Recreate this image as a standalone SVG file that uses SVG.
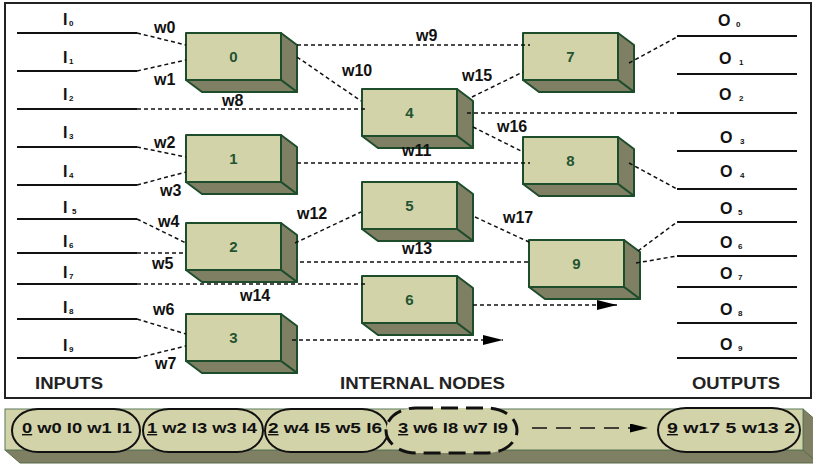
<svg xmlns="http://www.w3.org/2000/svg" xmlns:xlink="http://www.w3.org/1999/xlink" width="813" height="464" viewBox="0 0 813 464">
<style>
  .frame{fill:#fff;stroke:#222;stroke-width:2}
  .front{fill:#d3d3a9;stroke:#1e4d2c;stroke-width:2;stroke-linejoin:round}
  .side{fill:#7f7f63;stroke:#1e4d2c;stroke-width:2;stroke-linejoin:round}
  .num{font-family:"Liberation Sans",Arial,sans-serif;font-weight:bold;font-size:15px;fill:#235432;text-anchor:middle}
  .lbl{font-family:"Liberation Sans",Arial,sans-serif;font-weight:bold;font-size:16px;fill:#111}
  .io{font-family:"Liberation Sans",Arial,sans-serif;font-weight:bold;font-size:16px;fill:#111}
  .sub{font-size:8px}
  .big{font-family:"Liberation Sans",Arial,sans-serif;font-weight:bold;font-size:16px;fill:#222}
  .strip{font-family:"Liberation Sans",Arial,sans-serif;font-weight:bold;font-size:14px;fill:#111}
  .u{text-decoration:underline}
  .solid{stroke:#111;stroke-width:2;fill:none}
  .dash{stroke:#111;stroke-width:1.5;stroke-dasharray:4 3;fill:none}
  .pill{fill:#d3d3a9;stroke:#111;stroke-width:2}
  .pilld{fill:#d3d3a9;stroke:#111;stroke-width:3;stroke-dasharray:17 8}
</style>
<defs>
  <g id="box">
    <polygon class="side" points="95,0 111,12 111,59 95,47"/>
    <polygon class="side" points="0,47 95,47 111,59 16,59"/>
    <rect class="front" x="0" y="0" width="95" height="47"/>
  </g>
  <marker id="arr" markerUnits="userSpaceOnUse" markerWidth="20" markerHeight="10" refX="20" refY="5" orient="auto">
    <path d="M0,0 L20,5 L0,10 z" fill="#000"/>
  </marker>
  <marker id="arr2" markerUnits="userSpaceOnUse" markerWidth="18" markerHeight="9" refX="18" refY="4.5" orient="auto">
    <path d="M0,0 L18,4.5 L0,9 z" fill="#000"/>
  </marker>
</defs>

<rect class="frame" x="5" y="3" width="806" height="395"/>

<g id="inputs">
  <line class="solid" x1="17" y1="33" x2="137" y2="33"/>
  <line class="solid" x1="17" y1="71" x2="137" y2="71"/>
  <line class="solid" x1="17" y1="109" x2="137" y2="109"/>
  <line class="solid" x1="17" y1="147" x2="137" y2="147"/>
  <line class="solid" x1="17" y1="185" x2="137" y2="185"/>
  <line class="solid" x1="17" y1="219" x2="137" y2="219"/>
  <line class="solid" x1="17" y1="253" x2="137" y2="253"/>
  <line class="solid" x1="17" y1="284" x2="137" y2="284"/>
  <line class="solid" x1="17" y1="319" x2="137" y2="319"/>
  <line class="solid" x1="17" y1="358" x2="137" y2="358"/>
  <text class="io" x="63" y="25">I<tspan class="sub" x="69" y="26">0</tspan></text>
  <text class="io" x="63" y="63">I<tspan class="sub" x="69" y="64">1</tspan></text>
  <text class="io" x="63" y="100">I<tspan class="sub" x="69" y="101">2</tspan></text>
  <text class="io" x="63" y="138">I<tspan class="sub" x="69" y="139">3</tspan></text>
  <text class="io" x="63" y="177">I<tspan class="sub" x="69" y="178">4</tspan></text>
  <text class="io" x="63" y="213">I<tspan class="sub" x="72" y="214">5</tspan></text>
  <text class="io" x="63" y="247">I<tspan class="sub" x="69" y="248">6</tspan></text>
  <text class="io" x="63" y="278">I<tspan class="sub" x="69" y="279">7</tspan></text>
  <text class="io" x="63" y="313">I<tspan class="sub" x="69" y="314">8</tspan></text>
  <text class="io" x="63" y="351">I<tspan class="sub" x="69" y="352">9</tspan></text>
</g>

<g id="outputs">
  <line class="solid" x1="677" y1="36" x2="797" y2="36"/>
  <line class="solid" x1="677" y1="74" x2="797" y2="74"/>
  <line class="solid" x1="677" y1="113" x2="797" y2="113"/>
  <line class="solid" x1="677" y1="151" x2="797" y2="151"/>
  <line class="solid" x1="677" y1="189" x2="797" y2="189"/>
  <line class="solid" x1="677" y1="222" x2="797" y2="222"/>
  <line class="solid" x1="677" y1="256" x2="797" y2="256"/>
  <line class="solid" x1="677" y1="287" x2="797" y2="287"/>
  <line class="solid" x1="677" y1="323" x2="797" y2="323"/>
  <line class="solid" x1="677" y1="358" x2="797" y2="358"/>
  <text class="io" x="718" y="26">O<tspan class="sub" x="736" y="27">0</tspan></text>
  <text class="io" x="719" y="64">O<tspan class="sub" x="739" y="65">1</tspan></text>
  <text class="io" x="719" y="100">O<tspan class="sub" x="739" y="101">2</tspan></text>
  <text class="io" x="720" y="143">O<tspan class="sub" x="740" y="144">3</tspan></text>
  <text class="io" x="720" y="177">O<tspan class="sub" x="740" y="178">4</tspan></text>
  <text class="io" x="720" y="214">O<tspan class="sub" x="738" y="215">5</tspan></text>
  <text class="io" x="720" y="248">O<tspan class="sub" x="738" y="249">6</tspan></text>
  <text class="io" x="720" y="279">O<tspan class="sub" x="738" y="280">7</tspan></text>
  <text class="io" x="720" y="315">O<tspan class="sub" x="738" y="316">8</tspan></text>
  <text class="io" x="720" y="350">O<tspan class="sub" x="738" y="351">9</tspan></text>
</g>

<g id="node0" transform="translate(186,33)"><use href="#box"/><text class="num" x="47.5" y="29">0</text></g>
<g id="node1" transform="translate(186,135)"><use href="#box"/><text class="num" x="47.5" y="29">1</text></g>
<g id="node2" transform="translate(186,223)"><use href="#box"/><text class="num" x="47.5" y="29">2</text></g>
<g id="node3" transform="translate(186,314)"><use href="#box"/><text class="num" x="47.5" y="29">3</text></g>
<g id="node4" transform="translate(362,89)"><use href="#box"/><text class="num" x="47.5" y="29">4</text></g>
<g id="node5" transform="translate(362,182)"><use href="#box"/><text class="num" x="47.5" y="29">5</text></g>
<g id="node6" transform="translate(362,276)"><use href="#box"/><text class="num" x="47.5" y="29">6</text></g>
<g id="node7" transform="translate(523,33)"><use href="#box"/><text class="num" x="47.5" y="29">7</text></g>
<g id="node8" transform="translate(523,137)"><use href="#box"/><text class="num" x="47.5" y="29">8</text></g>
<g id="node9" transform="translate(529,240)"><use href="#box"/><text class="num" x="47.5" y="29">9</text></g>

<g id="connectors">
  <line class="dash" x1="137" y1="33" x2="186" y2="45"/>
  <line class="dash" x1="137" y1="71" x2="186" y2="60"/>
  <line class="dash" x1="137" y1="109" x2="366" y2="109"/>
  <line class="dash" x1="137" y1="147" x2="186" y2="157"/>
  <line class="dash" x1="137" y1="185" x2="186" y2="172"/>
  <line class="dash" x1="137" y1="219" x2="186" y2="243"/>
  <line class="dash" x1="137" y1="253" x2="186" y2="253"/>
  <line class="dash" x1="137" y1="284" x2="366" y2="284"/>
  <line class="dash" x1="137" y1="319" x2="186" y2="334"/>
  <line class="dash" x1="137" y1="358" x2="186" y2="346"/>
  <line class="dash" x1="297" y1="45" x2="530" y2="45"/>
  <line class="dash" x1="297" y1="57" x2="361" y2="101"/>
  <line class="dash" x1="297" y1="163" x2="530" y2="163"/>
  <line class="dash" x1="295" y1="243" x2="361" y2="212"/>
  <line class="dash" x1="300" y1="262" x2="528" y2="262"/>
  <line class="dash" x1="292" y1="340" x2="503" y2="340" marker-end="url(#arr)"/>
  <line class="dash" x1="472" y1="97" x2="523" y2="72"/>
  <line class="dash" x1="467" y1="113" x2="677" y2="113"/>
  <line class="dash" x1="473" y1="127" x2="523" y2="152"/>
  <line class="dash" x1="475" y1="217" x2="529" y2="242"/>
  <line class="dash" x1="473" y1="305" x2="617" y2="305" marker-end="url(#arr)"/>
  <line class="dash" x1="629" y1="63" x2="677" y2="37"/>
  <line class="dash" x1="629" y1="163" x2="677" y2="189"/>
  <line class="dash" x1="638" y1="251" x2="677" y2="222"/>
  <line class="dash" x1="636" y1="263" x2="677" y2="256"/>
</g>

<g id="weights">
  <text class="lbl" x="154" y="33">w0</text>
  <text class="lbl" x="154" y="85">w1</text>
  <text class="lbl" x="154" y="148">w2</text>
  <text class="lbl" x="160" y="196">w3</text>
  <text class="lbl" x="158" y="227">w4</text>
  <text class="lbl" x="152" y="269">w5</text>
  <text class="lbl" x="153" y="315">w6</text>
  <text class="lbl" x="155" y="369">w7</text>
  <text class="lbl" x="222" y="106">w8</text>
  <text class="lbl" x="416" y="41">w9</text>
  <text class="lbl" x="342" y="76">w10</text>
  <text class="lbl" x="402" y="156">w11</text>
  <text class="lbl" x="297" y="219">w12</text>
  <text class="lbl" x="402" y="254">w13</text>
  <text class="lbl" x="240" y="301">w14</text>
  <text class="lbl" x="462" y="81">w15</text>
  <text class="lbl" x="497" y="132">w16</text>
  <text class="lbl" x="503" y="223">w17</text>
</g>

<g id="captions">
  <text class="big" x="35" y="389" textLength="68" lengthAdjust="spacingAndGlyphs">INPUTS</text>
  <text class="big" x="340" y="389" textLength="165" lengthAdjust="spacingAndGlyphs">INTERNAL NODES</text>
  <text class="big" x="692" y="389" textLength="88" lengthAdjust="spacingAndGlyphs">OUTPUTS</text>
</g>

<g id="strip">
  <polygon points="5,450 803,450 818,463 20,463" fill="#7f7f63" stroke="#5b6b4b" stroke-width="1"/>
  <polygon points="803,409 818,422 818,463 803,450" fill="#7f7f63" stroke="#5b6b4b" stroke-width="1"/>
  <rect x="5" y="409" width="798" height="41" fill="#d3d3a9" stroke="#5b7b5b" stroke-width="1"/>
</g>

<g id="list0"><rect class="pill" x="12" y="409" width="128" height="43" rx="26" ry="21.5"/>
  <text class="strip" x="22" y="433" textLength="110" lengthAdjust="spacingAndGlyphs"><tspan class="u">0</tspan> w0 I0 w1 I1</text></g>
<g id="list1"><rect class="pill" x="143" y="409" width="120" height="43" rx="26" ry="21.5"/>
  <text class="strip" x="147" y="433" textLength="110" lengthAdjust="spacingAndGlyphs"><tspan class="u">1</tspan> w2 I3 w3 I4</text></g>
<g id="list2"><rect class="pill" x="265" y="409" width="123" height="43" rx="26" ry="21.5"/>
  <text class="strip" x="268" y="433" textLength="114" lengthAdjust="spacingAndGlyphs"><tspan class="u">2</tspan> w4 I5 w5 I6</text></g>
<g id="list3"><rect class="pilld" x="386" y="408" width="131" height="45" rx="30" ry="22.5"/>
  <text class="strip" x="398" y="433" textLength="110" lengthAdjust="spacingAndGlyphs"><tspan class="u">3</tspan> w6 I8 w7 I9</text></g>
<g id="list9"><rect class="pill" x="658" y="408" width="142" height="44" rx="28" ry="22"/>
  <text class="strip" x="667" y="433" textLength="128" lengthAdjust="spacingAndGlyphs"><tspan class="u">9</tspan> w17 5 w13 2</text></g>
<g id="strip-connector">
  <line x1="532" y1="428" x2="648" y2="428" stroke="#111" stroke-width="1.5" stroke-dasharray="15 9" marker-end="url(#arr2)"/>
</g>
</svg>
